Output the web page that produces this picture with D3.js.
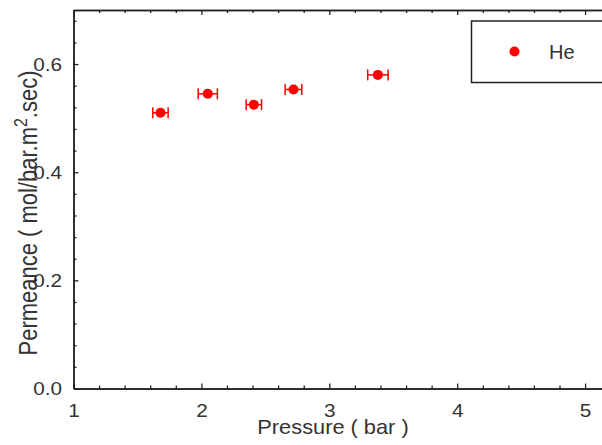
<!DOCTYPE html>
<html>
<head>
<meta charset="utf-8">
<script src="https://cdn.jsdelivr.net/npm/d3@7"></script>
<style>
  body { margin: 0; background: #fff; }
  text { font-family: "Liberation Sans", Arial, sans-serif; fill: #333; }
</style>
</head>
<body>
<script>
var w = 602;
var h = 445;

// data
var pressure = [1.68, 2.05, 2.41, 2.72, 3.38];
var permeance = [0.51, 0.545, 0.525, 0.553, 0.58];
var pressureErr = [0.06, 0.075, 0.06, 0.065, 0.08];
var xTicks = [1, 2, 3, 4, 5];
var yTicks = [0.0, 0.2, 0.4, 0.6];
var legendLabel = 'He';

var x = d3.scaleLinear().domain([1, 5.5]).range([73.5, 73.5 + 4.5 * 127.9]);
var y = d3.scaleLinear().domain([0, 0.7]).range([388.5, 10]);

var xMinor = d3.range(1, 5.5, 0.2).filter(function(v){ return Math.abs(v - Math.round(v)) > 1e-6; });
var yMinor = d3.range(0, 0.7, 0.04).filter(function(v){ return Math.abs(v / 0.2 - Math.round(v / 0.2)) > 1e-6; });

var svg = d3.select('body')
            .append('svg')
            .attr('width', w)
            .attr('height', h);

svg.append('rect')
   .attr('width', w)
   .attr('height', h)
   .attr('fill', 'white');

function styleAxis(g){
    g.select('.domain').attr('stroke', '#222').attr('stroke-width', 1.5);
    g.selectAll('.tick line').attr('stroke', '#222').attr('stroke-width', 1.3);
    g.selectAll('.tick text')
     .attr('fill', '#333')
     .attr('transform', 'scale(1.12,1)')
     .style('font-family', '"Liberation Sans", Arial, sans-serif')
     .style('font-size', '18.5px');
}

// bottom axis
var gb = svg.append('g').attr('transform', 'translate(0,' + y(0) + ')');
gb.call(d3.axisBottom(x).tickValues(xTicks).tickSize(-5).tickSizeOuter(0).tickPadding(15)
        .tickFormat(d3.format('d')));
styleAxis(gb);
var gbm = svg.append('g').attr('transform', 'translate(0,' + y(0) + ')');
gbm.call(d3.axisBottom(x).tickValues(xMinor).tickSize(-3).tickSizeOuter(0).tickFormat(''));
styleAxis(gbm);

// top axis
var gt = svg.append('g').attr('transform', 'translate(0,' + y(0.7) + ')');
gt.call(d3.axisTop(x).tickValues(xTicks).tickSize(-5).tickSizeOuter(0).tickFormat(''));
styleAxis(gt);
var gtm = svg.append('g').attr('transform', 'translate(0,' + y(0.7) + ')');
gtm.call(d3.axisTop(x).tickValues(xMinor).tickSize(-3).tickSizeOuter(0).tickFormat(''));
styleAxis(gtm);

// left axis
var gl = svg.append('g').attr('transform', 'translate(' + x(1) + ',0)');
gl.call(d3.axisLeft(y).tickValues(yTicks).tickSize(-5).tickSizeOuter(0).tickPadding(10.3)
        .tickFormat(d3.format('.1f')));
styleAxis(gl);
var glm = svg.append('g').attr('transform', 'translate(' + x(1) + ',0)');
glm.call(d3.axisLeft(y).tickValues(yMinor).tickSize(-3).tickSizeOuter(0).tickFormat(''));
styleAxis(glm);

// axis titles
svg.append('text')
   .attr('transform', 'translate(333,434) scale(1.09,1)')
   .attr('text-anchor', 'middle')
   .style('font-size', '20px')
   .text('Pressure ( bar )');

var yl = svg.append('text')
   .attr('transform', 'translate(37,213) rotate(-90) scale(1,1.15)')
   .attr('text-anchor', 'middle')
   .style('font-size', '22px');
yl.append('tspan').text('Permeance ( mol/bar.m');
yl.append('tspan').attr('dy', -9).style('font-size', '16px').text('2');
yl.append('tspan').attr('dy', 9).text('.sec)');

// data points with horizontal error bars
var pts = pressure.map(function(p, i){
    return { x: p, y: permeance[i], e: pressureErr[i] };
});

var pg = svg.append('g').selectAll('g')
   .data(pts)
   .enter()
   .append('g');

pg.append('line')
  .attr('x1', function(d){ return x(d.x - d.e); })
  .attr('x2', function(d){ return x(d.x + d.e); })
  .attr('y1', function(d){ return y(d.y); })
  .attr('y2', function(d){ return y(d.y); })
  .attr('stroke', 'red').attr('stroke-width', 1.5);

pg.append('line')
  .attr('x1', function(d){ return x(d.x - d.e); })
  .attr('x2', function(d){ return x(d.x - d.e); })
  .attr('y1', function(d){ return y(d.y) - 5.5; })
  .attr('y2', function(d){ return y(d.y) + 5.5; })
  .attr('stroke', 'red').attr('stroke-width', 1.5);

pg.append('line')
  .attr('x1', function(d){ return x(d.x + d.e); })
  .attr('x2', function(d){ return x(d.x + d.e); })
  .attr('y1', function(d){ return y(d.y) - 5.5; })
  .attr('y2', function(d){ return y(d.y) + 5.5; })
  .attr('stroke', 'red').attr('stroke-width', 1.5);

pg.append('circle')
  .attr('cx', function(d){ return x(d.x); })
  .attr('cy', function(d){ return y(d.y); })
  .attr('r', 5)
  .attr('fill', 'red');

// legend
var lg = svg.append('g');
lg.append('rect')
  .attr('x', 471.5)
  .attr('y', 21)
  .attr('width', 200)
  .attr('height', 61.5)
  .attr('fill', 'white')
  .attr('stroke', '#222')
  .attr('stroke-width', 1.5);
lg.append('circle')
  .attr('cx', 514.5)
  .attr('cy', 51.5)
  .attr('r', 5)
  .attr('fill', 'red');
lg.append('text')
  .attr('x', 549)
  .attr('y', 58.5)
  .style('font-size', '20px')
  .text(legendLabel);
</script>
</body>
</html>
